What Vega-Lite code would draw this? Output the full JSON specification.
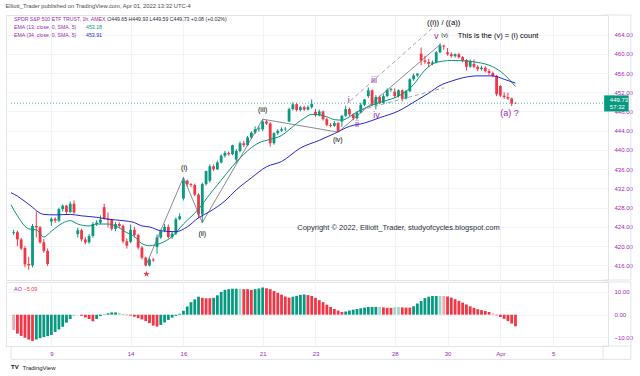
{
"$schema":"https://vega.github.io/schema/vega-lite/v6.json",
"padding":{"left":5,"top":3,"right":4,"bottom":0},
"title":{"text":"Elliott_Trader published on TradingView.com, Apr 01, 2022 13:32 UTC-4","anchor":"start","frame":"bounds","fontSize":5.8,"font":"Liberation Sans","fontWeight":"normal","color":"#4a4a4a","offset":5},
"spacing":0,
"datasets":{
"candles":[
{"i":0,"o":422.7,"h":423.4,"l":422.3,"c":422.9},{"i":1,"o":422.9,"h":423.2,"l":420.0,"c":421.4},{"i":2,"o":421.4,"h":421.7,"l":419.2,"c":419.5},{"i":3,"o":419.6,"h":420.0,"l":415.6,"c":416.2},{"i":4,"o":416.3,"h":417.8,"l":415.1,"c":416.0},{"i":5,"o":416.0,"h":424.6,"l":415.6,"c":424.2},{"i":6,"o":424.2,"h":427.2,"l":421.8,"c":423.9},{"i":7,"o":423.9,"h":424.2,"l":420.5,"c":420.8},{"i":8,"o":420.8,"h":421.5,"l":418.6,"c":419.0},{"i":9,"o":419.0,"h":419.5,"l":415.9,"c":416.3},
{"i":10,"o":425.1,"h":426.0,"l":424.2,"c":425.7},{"i":11,"o":425.7,"h":426.0,"l":424.8,"c":425.3},{"i":12,"o":425.3,"h":428.0,"l":425.0,"c":427.7},{"i":13,"o":427.7,"h":428.7,"l":427.2,"c":428.4},{"i":14,"o":428.4,"h":428.6,"l":426.7,"c":427.1},{"i":15,"o":427.1,"h":429.3,"l":426.9,"c":428.8},{"i":16,"o":428.8,"h":429.5,"l":426.7,"c":427.0},
{"i":17,"o":422.5,"h":423.8,"l":421.8,"c":423.3},{"i":18,"o":423.3,"h":423.6,"l":421.0,"c":421.4},{"i":19,"o":421.4,"h":421.9,"l":420.4,"c":420.8},{"i":20,"o":420.8,"h":422.5,"l":420.5,"c":422.1},{"i":21,"o":422.1,"h":425.0,"l":421.8,"c":424.6},{"i":22,"o":424.6,"h":425.4,"l":424.2,"c":424.9},{"i":23,"o":424.9,"h":426.4,"l":424.6,"c":425.5},
{"i":24,"o":428.1,"h":428.8,"l":425.5,"c":425.8},{"i":25,"o":425.8,"h":427.0,"l":423.9,"c":425.5},{"i":26,"o":425.5,"h":425.7,"l":423.2,"c":423.6},{"i":27,"o":423.6,"h":425.0,"l":423.1,"c":424.6},{"i":28,"o":424.6,"h":425.0,"l":423.8,"c":424.2},{"i":29,"o":424.2,"h":424.5,"l":420.6,"c":421.0},{"i":30,"o":421.0,"h":421.6,"l":419.5,"c":420.1},
{"i":31,"o":420.9,"h":424.5,"l":420.6,"c":423.4},{"i":32,"o":423.4,"h":424.0,"l":421.8,"c":422.3},{"i":33,"o":422.3,"h":422.6,"l":419.3,"c":419.7},{"i":34,"o":419.7,"h":420.0,"l":417.2,"c":417.6},{"i":35,"o":417.6,"h":417.8,"l":415.8,"c":416.0},{"i":36,"o":416.0,"h":417.6,"l":415.8,"c":417.2},{"i":37,"o":417.2,"h":417.6,"l":416.8,"c":417.0},
{"i":38,"o":419.8,"h":422.4,"l":418.4,"c":421.8},{"i":39,"o":421.8,"h":423.5,"l":421.5,"c":423.2},{"i":40,"o":423.2,"h":424.6,"l":422.9,"c":424.0},{"i":41,"o":424.0,"h":424.5,"l":421.6,"c":421.9},{"i":42,"o":421.9,"h":423.0,"l":421.5,"c":422.6},{"i":43,"o":422.6,"h":426.0,"l":422.3,"c":425.6},{"i":44,"o":425.6,"h":426.8,"l":425.4,"c":426.2},
{"i":45,"o":429.9,"h":434.3,"l":429.5,"c":433.6},{"i":46,"o":433.6,"h":433.8,"l":432.4,"c":432.9},{"i":47,"o":432.9,"h":433.1,"l":432.3,"c":432.7},{"i":48,"o":432.7,"h":433.0,"l":430.4,"c":430.7},{"i":49,"o":430.7,"h":431.0,"l":425.8,"c":426.6},{"i":50,"o":426.6,"h":433.2,"l":424.8,"c":432.9},{"i":51,"o":432.9,"h":435.7,"l":432.6,"c":435.6},
{"i":52,"o":433.6,"h":437.0,"l":433.2,"c":436.6},{"i":53,"o":436.6,"h":437.0,"l":435.6,"c":436.0},{"i":54,"o":436.0,"h":437.8,"l":435.8,"c":437.4},{"i":55,"o":437.4,"h":439.1,"l":437.2,"c":438.8},{"i":56,"o":438.8,"h":439.8,"l":438.4,"c":439.4},{"i":57,"o":439.4,"h":439.7,"l":438.8,"c":439.1},{"i":58,"o":439.1,"h":441.1,"l":438.9,"c":441.0},
{"i":59,"o":438.0,"h":440.2,"l":437.2,"c":439.8},{"i":60,"o":439.8,"h":441.8,"l":439.5,"c":441.4},{"i":61,"o":441.4,"h":441.9,"l":440.6,"c":441.0},{"i":62,"o":441.0,"h":442.9,"l":440.8,"c":442.6},{"i":63,"o":442.6,"h":443.9,"l":442.3,"c":443.6},{"i":64,"o":443.6,"h":444.9,"l":443.3,"c":444.3},{"i":65,"o":444.3,"h":444.9,"l":443.8,"c":444.5},
{"i":66,"o":444.3,"h":446.4,"l":443.9,"c":445.9},{"i":67,"o":445.9,"h":446.2,"l":445.2,"c":445.5},{"i":68,"o":445.5,"h":445.8,"l":440.7,"c":441.4},{"i":69,"o":441.4,"h":443.7,"l":441.1,"c":443.5},{"i":70,"o":443.5,"h":444.3,"l":443.1,"c":444.0},{"i":71,"o":444.0,"h":444.7,"l":443.7,"c":444.3},{"i":72,"o":444.3,"h":444.8,"l":443.9,"c":444.4},
{"i":73,"o":445.9,"h":448.8,"l":445.8,"c":448.5},{"i":74,"o":448.5,"h":449.9,"l":448.2,"c":449.5},{"i":75,"o":449.5,"h":449.8,"l":448.0,"c":448.3},{"i":76,"o":448.3,"h":449.2,"l":448.0,"c":448.9},{"i":77,"o":448.9,"h":449.2,"l":448.1,"c":448.4},{"i":78,"o":448.4,"h":449.3,"l":448.2,"c":448.9},{"i":79,"o":448.9,"h":450.5,"l":448.6,"c":449.6},
{"i":80,"o":447.9,"h":448.5,"l":446.9,"c":447.2},{"i":81,"o":447.2,"h":448.4,"l":447.0,"c":448.0},{"i":82,"o":448.0,"h":448.2,"l":446.1,"c":446.4},{"i":83,"o":446.4,"h":446.7,"l":444.9,"c":445.2},{"i":84,"o":445.2,"h":445.6,"l":444.7,"c":445.0},{"i":85,"o":445.0,"h":446.0,"l":444.8,"c":445.6},{"i":86,"o":445.6,"h":445.9,"l":443.7,"c":443.8},
{"i":87,"o":445.9,"h":447.3,"l":444.8,"c":447.1},{"i":88,"o":447.1,"h":449.2,"l":446.9,"c":448.5},{"i":89,"o":448.5,"h":448.8,"l":447.0,"c":447.4},{"i":90,"o":447.4,"h":447.6,"l":446.2,"c":446.6},{"i":91,"o":446.6,"h":448.0,"l":446.3,"c":447.8},{"i":92,"o":447.8,"h":449.8,"l":447.6,"c":449.4},{"i":93,"o":449.4,"h":450.6,"l":449.1,"c":450.5},
{"i":94,"o":451.2,"h":453.0,"l":450.8,"c":452.4},{"i":95,"o":452.4,"h":452.6,"l":449.1,"c":449.4},{"i":96,"o":449.4,"h":451.4,"l":448.4,"c":451.0},{"i":97,"o":451.0,"h":451.3,"l":449.5,"c":449.8},{"i":98,"o":449.8,"h":451.6,"l":449.6,"c":451.2},{"i":99,"o":451.2,"h":452.8,"l":451.0,"c":452.5},{"i":100,"o":452.5,"h":452.9,"l":452.1,"c":452.7},
{"i":101,"o":452.1,"h":452.8,"l":450.8,"c":451.2},{"i":102,"o":451.2,"h":452.6,"l":450.9,"c":452.4},{"i":103,"o":452.4,"h":452.6,"l":450.1,"c":450.7},{"i":104,"o":450.7,"h":452.5,"l":450.5,"c":452.2},{"i":105,"o":452.2,"h":454.9,"l":452.0,"c":454.7},{"i":106,"o":454.7,"h":455.9,"l":454.4,"c":455.5},{"i":107,"o":455.5,"h":455.9,"l":455.2,"c":455.9},
{"i":108,"o":460.0,"h":461.3,"l":457.6,"c":458.6},{"i":109,"o":458.6,"h":459.6,"l":457.9,"c":458.3},{"i":110,"o":458.3,"h":458.9,"l":457.2,"c":457.9},{"i":111,"o":457.9,"h":458.6,"l":457.6,"c":458.2},{"i":112,"o":458.2,"h":460.6,"l":458.0,"c":460.3},{"i":113,"o":460.3,"h":462.1,"l":460.1,"c":461.7},{"i":114,"o":461.7,"h":461.9,"l":460.8,"c":461.5},
{"i":115,"o":460.3,"h":461.2,"l":459.6,"c":459.9},{"i":116,"o":459.9,"h":460.3,"l":459.2,"c":459.5},{"i":117,"o":459.5,"h":460.1,"l":459.2,"c":459.9},{"i":118,"o":459.9,"h":460.2,"l":459.0,"c":459.3},{"i":119,"o":459.3,"h":459.5,"l":458.2,"c":458.5},{"i":120,"o":458.7,"h":458.9,"l":456.5,"c":457.3},{"i":121,"o":457.3,"h":458.8,"l":457.1,"c":458.5},
{"i":122,"o":457.9,"h":458.8,"l":457.0,"c":457.3},{"i":123,"o":457.3,"h":457.6,"l":456.4,"c":456.8},{"i":124,"o":456.8,"h":457.5,"l":456.5,"c":457.1},{"i":125,"o":457.1,"h":457.4,"l":456.1,"c":456.4},{"i":126,"o":456.4,"h":456.8,"l":455.6,"c":456.0},{"i":127,"o":456.0,"h":456.3,"l":455.1,"c":455.4},{"i":128,"o":455.4,"h":455.6,"l":451.2,"c":451.6},
{"i":129,"o":453.3,"h":453.5,"l":451.0,"c":451.3},{"i":130,"o":451.3,"h":452.0,"l":450.6,"c":451.0},{"i":131,"o":451.0,"h":451.9,"l":450.4,"c":450.7},{"i":132,"o":450.7,"h":450.9,"l":449.1,"c":449.65},{"i":133,"o":449.65,"h":449.93,"l":449.59,"c":449.73}
],
"ema13":[
{"i":-0.7,"v":428.6},{"i":1,"v":426.3},{"i":4,"v":423.6},{"i":6,"v":423.4},{"i":8,"v":421.9},{"i":10,"v":423.1},{"i":13,"v":424.8},{"i":15,"v":425.3},{"i":17,"v":424.6},{"i":20,"v":424.2},{"i":22,"v":424.6},{"i":25,"v":424.6},{"i":27,"v":424.2},{"i":30,"v":422.8},{"i":32,"v":422.0},{"i":34,"v":420.5},{"i":36,"v":420.1},{"i":39,"v":420.6},{"i":42,"v":422.0},{"i":45,"v":424.6},{"i":49,"v":427.7},{"i":52,"v":430.8},{"i":55,"v":433.7},{"i":58,"v":436.6},{"i":61,"v":439.1},{"i":65,"v":441.5},{"i":68,"v":442.2},{"i":71,"v":443.0},{"i":73,"v":444.2},{"i":75,"v":445.5},{"i":77,"v":446.6},{"i":79,"v":447.4},{"i":81,"v":447.3},{"i":83,"v":446.9},{"i":85,"v":446.3},{"i":87,"v":446.2},{"i":89,"v":446.9},{"i":91,"v":447.9},{"i":95,"v":449.3},{"i":98,"v":450.1},{"i":102,"v":451.2},{"i":106,"v":453.6},{"i":109,"v":456.6},{"i":112,"v":458.2},{"i":116,"v":458.6},{"i":120,"v":458.5},{"i":123,"v":458.2},{"i":127,"v":457.3},{"i":130,"v":455.7},{"i":133,"v":453.2}
],
"ema34":[
{"i":-0.7,"v":431.1},{"i":1,"v":430.4},{"i":4,"v":428.7},{"i":8,"v":426.6},{"i":11,"v":426.5},{"i":15,"v":426.6},{"i":18,"v":426.3},{"i":22,"v":426.0},{"i":25,"v":425.6},{"i":29,"v":425.3},{"i":32,"v":424.9},{"i":34,"v":424.2},{"i":36,"v":424.0},{"i":39,"v":423.2},{"i":43,"v":423.0},{"i":46,"v":424.0},{"i":49,"v":425.9},{"i":52,"v":427.2},{"i":56,"v":429.4},{"i":59,"v":431.7},{"i":63,"v":434.2},{"i":67,"v":436.5},{"i":71,"v":437.6},{"i":76,"v":440.4},{"i":81,"v":442.0},{"i":85,"v":443.4},{"i":89,"v":444.9},{"i":93,"v":445.6},{"i":97,"v":446.7},{"i":102,"v":448.1},{"i":107,"v":450.4},{"i":110,"v":451.8},{"i":113,"v":453.4},{"i":116,"v":454.3},{"i":119,"v":455.0},{"i":123,"v":455.4},{"i":127,"v":455.4},{"i":130,"v":454.7},{"i":133,"v":453.9}
],
"waves":[
{"i":35,"p":415.9},{"i":45,"p":434.3},{"i":50,"p":424.9},{"i":66,"p":446.4},{"i":86,"p":443.7},{"i":113.3,"p":462.1}
],
"channels":[
{"g":"u","i":89.2,"p":450.2},{"g":"u","i":111.1,"p":465.4},{"g":"d","i":92,"p":448.3},{"g":"d","i":114,"p":452.9}
],
"blackText":[
{"i":45.2,"p":436.3,"t":"(i)"},{"i":50,"p":422.6,"t":"(ii)"},{"i":66,"p":448.3,"t":"(iii)"},{"i":85.9,"p":442.1,"t":"(iv)"}
],
"purpleText":[
{"i":88.8,"p":450.4,"t":"i"},{"i":91,"p":445.5,"t":"ii"},{"i":95.5,"p":454.5,"t":"iii"},{"i":96.2,"p":447.2,"t":"iv"},{"i":112,"p":463.7,"t":"v"},{"i":131.4,"p":447.6,"t":"(a) ?"}
],
"ao":[
{"i":0,"v":-6.7,"t":"lr"},{"i":1,"v":-8.3,"t":"r"},{"i":2,"v":-9.3,"t":"r"},{"i":3,"v":-10.1,"t":"r"},{"i":4,"v":-10.9,"t":"r"},{"i":5,"v":-11.5,"t":"r"},{"i":6,"v":-10.9,"t":"g"},{"i":7,"v":-10.3,"t":"g"},{"i":8,"v":-9.8,"t":"g"},{"i":9,"v":-9.4,"t":"g"},
{"i":10,"v":-8.9,"t":"g"},{"i":11,"v":-7.6,"t":"g"},{"i":12,"v":-6.5,"t":"g"},{"i":13,"v":-5.3,"t":"g"},{"i":14,"v":-3.5,"t":"g"},{"i":15,"v":-1.9,"t":"g"},{"i":16,"v":-0.6,"t":"lg"},{"i":17,"v":0.1,"t":"lg"},{"i":18,"v":-0.5,"t":"r"},{"i":19,"v":-1.2,"t":"r"},
{"i":20,"v":-1.9,"t":"r"},{"i":21,"v":-2.9,"t":"r"},{"i":22,"v":-1.9,"t":"g"},{"i":23,"v":-0.6,"t":"g"},{"i":24,"v":0.2,"t":"g"},{"i":25,"v":0.6,"t":"g"},{"i":26,"v":1.0,"t":"g"},{"i":27,"v":1.0,"t":"g"},{"i":28,"v":0.8,"t":"lg"},{"i":29,"v":0.2,"t":"r"},
{"i":30,"v":-0.2,"t":"r"},{"i":31,"v":-0.4,"t":"r"},{"i":32,"v":-0.9,"t":"r"},{"i":33,"v":-1.5,"t":"r"},{"i":34,"v":-2.1,"t":"r"},{"i":35,"v":-2.8,"t":"r"},{"i":36,"v":-3.7,"t":"r"},{"i":37,"v":-4.8,"t":"r"},{"i":38,"v":-5.2,"t":"r"},{"i":39,"v":-4.5,"t":"g"},
{"i":40,"v":-3.4,"t":"g"},{"i":41,"v":-2.3,"t":"g"},{"i":42,"v":-1.3,"t":"g"},{"i":43,"v":-0.5,"t":"g"},{"i":44,"v":0.4,"t":"g"},{"i":45,"v":1.7,"t":"g"},{"i":46,"v":3.6,"t":"g"},{"i":47,"v":5.5,"t":"g"},{"i":48,"v":6.7,"t":"g"},{"i":49,"v":7.9,"t":"g"},
{"i":50,"v":7.4,"t":"r"},{"i":51,"v":7.2,"t":"r"},{"i":52,"v":7.2,"t":"r"},{"i":53,"v":7.4,"t":"g"},{"i":54,"v":8.5,"t":"g"},{"i":55,"v":10.0,"t":"g"},{"i":56,"v":10.9,"t":"g"},{"i":57,"v":11.2,"t":"g"},{"i":58,"v":11.4,"t":"g"},{"i":59,"v":11.4,"t":"g"},
{"i":60,"v":11.4,"t":"lg"},{"i":61,"v":11.2,"t":"r"},{"i":62,"v":11.2,"t":"r"},{"i":63,"v":10.9,"t":"r"},{"i":64,"v":11.2,"t":"g"},{"i":65,"v":11.5,"t":"g"},{"i":66,"v":11.9,"t":"g"},{"i":67,"v":11.6,"t":"r"},{"i":68,"v":11.2,"t":"r"},{"i":69,"v":10.4,"t":"r"},
{"i":70,"v":9.6,"t":"r"},{"i":71,"v":8.8,"t":"r"},{"i":72,"v":8.0,"t":"r"},{"i":73,"v":7.5,"t":"r"},{"i":74,"v":7.9,"t":"g"},{"i":75,"v":8.3,"t":"g"},{"i":76,"v":8.7,"t":"g"},{"i":77,"v":8.9,"t":"g"},{"i":78,"v":8.6,"t":"r"},{"i":79,"v":8.2,"t":"r"},
{"i":80,"v":7.4,"t":"r"},{"i":81,"v":6.4,"t":"r"},{"i":82,"v":5.5,"t":"r"},{"i":83,"v":4.4,"t":"r"},{"i":84,"v":3.4,"t":"r"},{"i":85,"v":2.5,"t":"r"},{"i":86,"v":1.8,"t":"r"},{"i":87,"v":1.2,"t":"r"},{"i":88,"v":1.4,"t":"g"},{"i":89,"v":1.8,"t":"g"},
{"i":90,"v":2.2,"t":"g"},{"i":91,"v":2.5,"t":"g"},{"i":92,"v":2.8,"t":"g"},{"i":93,"v":3.1,"t":"g"},{"i":94,"v":3.4,"t":"g"},{"i":95,"v":3.4,"t":"g"},{"i":96,"v":3.4,"t":"g"},{"i":97,"v":3.4,"t":"lg"},{"i":98,"v":3.2,"t":"r"},{"i":99,"v":3.0,"t":"r"},
{"i":100,"v":3.0,"t":"r"},{"i":101,"v":3.3,"t":"lg"},{"i":102,"v":3.4,"t":"lg"},{"i":103,"v":3.2,"t":"r"},{"i":104,"v":3.1,"t":"r"},{"i":105,"v":3.1,"t":"r"},{"i":106,"v":3.7,"t":"g"},{"i":107,"v":4.9,"t":"g"},{"i":108,"v":6.0,"t":"g"},{"i":109,"v":7.3,"t":"g"},
{"i":110,"v":7.9,"t":"g"},{"i":111,"v":8.2,"t":"g"},{"i":112,"v":8.2,"t":"g"},{"i":113,"v":8.2,"t":"lg"},{"i":114,"v":8.2,"t":"lr"},{"i":115,"v":8.0,"t":"r"},{"i":116,"v":7.5,"t":"r"},{"i":117,"v":6.8,"t":"r"},{"i":118,"v":6.1,"t":"r"},{"i":119,"v":5.3,"t":"r"},
{"i":120,"v":4.5,"t":"r"},{"i":121,"v":3.7,"t":"r"},{"i":122,"v":3.0,"t":"r"},{"i":123,"v":2.4,"t":"r"},{"i":124,"v":2.0,"t":"r"},{"i":125,"v":1.6,"t":"r"},{"i":126,"v":1.2,"t":"r"},{"i":127,"v":0.6,"t":"lr"},{"i":128,"v":-0.3,"t":"r"},{"i":129,"v":-1.0,"t":"r"},
{"i":130,"v":-1.8,"t":"r"},{"i":131,"v":-2.8,"t":"r"},{"i":132,"v":-3.9,"t":"r"},{"i":133,"v":-5.09,"t":"r"}
]
},
"vconcat":[
{
"width":602,"height":265,
"encoding":{"x":{"field":"i","type":"quantitative","scale":{"domain":[-0.7,156.2],"nice":false,"zero":false},"axis":{"values":[10,31,45,66,80,101,115,129,143],"labels":false,"ticks":false,"domain":false,"grid":true,"gridColor":"#f0f3fa","title":null,"minExtent":0,"maxExtent":0,"labelPadding":0,"tickSize":0,"offset":0}}},
"layer":[
{"data":{"values":[{"i":-0.7,"i2":156.2,"p":449.73}]},"mark":{"type":"rule","color":"#089981","strokeDash":[1,2],"strokeWidth":1,"opacity":0.7},
 "encoding":{"x2":{"field":"i2"},"y":{"field":"p","type":"quantitative","title":null,"scale":{"domain":[412.96,468.06],"nice":false,"zero":false},"axis":{"orient":"right","values":[416,420,424,428,432,436,440,444,448,452,456,460,464],"format":".2f","grid":true,"gridColor":"#f0f3fa","domain":false,"ticks":false,"labelPadding":6,"labelFont":"Liberation Sans","labelFontSize":6,"labelColor":"#9c27b0","title":null}}}},
{"data":{"values":[{"i":156.2,"i2":163.6,"p":468.06},{"i":156.2,"i2":163.6,"p":412.96}]},"mark":{"type":"rule","color":"#e0e3eb","strokeWidth":1},
 "encoding":{"x2":{"field":"i2"},"y":{"field":"p","type":"quantitative","title":null,"scale":{"domain":[412.96,468.06],"nice":false,"zero":false},"axis":{"orient":"right","values":[416,420,424,428,432,436,440,444,448,452,456,460,464],"format":".2f","grid":true,"gridColor":"#f0f3fa","domain":false,"ticks":false,"labelPadding":6,"labelFont":"Liberation Sans","labelFontSize":6,"labelColor":"#9c27b0","title":null}}}},
{"data":{"values":[{"i":163.6,"p":412.96,"p2":468.06}]},"mark":{"type":"rule","color":"#e0e3eb","strokeWidth":1},
 "encoding":{"y":{"field":"p","type":"quantitative","title":null,"scale":{"domain":[412.96,468.06],"nice":false,"zero":false},"axis":{"orient":"right","values":[416,420,424,428,432,436,440,444,448,452,456,460,464],"format":".2f","grid":true,"gridColor":"#f0f3fa","domain":false,"ticks":false,"labelPadding":6,"labelFont":"Liberation Sans","labelFontSize":6,"labelColor":"#9c27b0","title":null}},"y2":{"field":"p2"}}},
{"data":{"name":"candles"},"mark":{"type":"rule","strokeWidth":1},
 "encoding":{"y":{"field":"l","type":"quantitative","title":null,"scale":{"domain":[412.96,468.06],"nice":false,"zero":false},"axis":{"orient":"right","values":[416,420,424,428,432,436,440,444,448,452,456,460,464],"format":".2f","grid":true,"gridColor":"#f0f3fa","domain":false,"ticks":false,"labelPadding":6,"labelFont":"Liberation Sans","labelFontSize":6,"labelColor":"#9c27b0","title":null}},"y2":{"field":"h"},
 "color":{"condition":{"test":"datum.c >= datum.o","value":"#089981"},"value":"#f23645"}}},
{"data":{"name":"candles"},"mark":{"type":"bar","size":2.8},
 "encoding":{"y":{"field":"o","type":"quantitative","title":null,"scale":{"domain":[412.96,468.06],"nice":false,"zero":false},"axis":{"orient":"right","values":[416,420,424,428,432,436,440,444,448,452,456,460,464],"format":".2f","grid":true,"gridColor":"#f0f3fa","domain":false,"ticks":false,"labelPadding":6,"labelFont":"Liberation Sans","labelFontSize":6,"labelColor":"#9c27b0","title":null}},"y2":{"field":"c"},
 "color":{"condition":{"test":"datum.c >= datum.o","value":"#089981"},"value":"#f23645"}}},
{"data":{"name":"ema13"},"mark":{"type":"line","color":"#0b9474","strokeWidth":1,"interpolate":"monotone"},
 "encoding":{"y":{"field":"v","type":"quantitative","title":null,"scale":{"domain":[412.96,468.06],"nice":false,"zero":false},"axis":{"orient":"right","values":[416,420,424,428,432,436,440,444,448,452,456,460,464],"format":".2f","grid":true,"gridColor":"#f0f3fa","domain":false,"ticks":false,"labelPadding":6,"labelFont":"Liberation Sans","labelFontSize":6,"labelColor":"#9c27b0","title":null}}}},
{"data":{"name":"ema34"},"mark":{"type":"line","color":"#2424d8","strokeWidth":1,"interpolate":"monotone"},
 "encoding":{"y":{"field":"v","type":"quantitative","title":null,"scale":{"domain":[412.96,468.06],"nice":false,"zero":false},"axis":{"orient":"right","values":[416,420,424,428,432,436,440,444,448,452,456,460,464],"format":".2f","grid":true,"gridColor":"#f0f3fa","domain":false,"ticks":false,"labelPadding":6,"labelFont":"Liberation Sans","labelFontSize":6,"labelColor":"#9c27b0","title":null}}}},
{"data":{"name":"waves"},"mark":{"type":"line","color":"#6a6d78","strokeWidth":0.8},
 "encoding":{"y":{"field":"p","type":"quantitative","title":null,"scale":{"domain":[412.96,468.06],"nice":false,"zero":false},"axis":{"orient":"right","values":[416,420,424,428,432,436,440,444,448,452,456,460,464],"format":".2f","grid":true,"gridColor":"#f0f3fa","domain":false,"ticks":false,"labelPadding":6,"labelFont":"Liberation Sans","labelFontSize":6,"labelColor":"#9c27b0","title":null}}}},
{"data":{"name":"channels"},"mark":{"type":"line","color":"#8a8d96","strokeWidth":0.8,"strokeDash":[4,3]},
 "encoding":{"detail":{"field":"g"},"y":{"field":"p","type":"quantitative","title":null,"scale":{"domain":[412.96,468.06],"nice":false,"zero":false},"axis":{"orient":"right","values":[416,420,424,428,432,436,440,444,448,452,456,460,464],"format":".2f","grid":true,"gridColor":"#f0f3fa","domain":false,"ticks":false,"labelPadding":6,"labelFont":"Liberation Sans","labelFontSize":6,"labelColor":"#9c27b0","title":null}}}},
{"data":{"name":"blackText"},"mark":{"type":"text","font":"Liberation Sans","fontSize":7,"fill":"#000000","align":"center","baseline":"middle"},
 "encoding":{"text":{"field":"t"},"y":{"field":"p","type":"quantitative","title":null,"scale":{"domain":[412.96,468.06],"nice":false,"zero":false},"axis":{"orient":"right","values":[416,420,424,428,432,436,440,444,448,452,456,460,464],"format":".2f","grid":true,"gridColor":"#f0f3fa","domain":false,"ticks":false,"labelPadding":6,"labelFont":"Liberation Sans","labelFontSize":6,"labelColor":"#9c27b0","title":null}}}},
{"data":{"values":[{"i":114,"p":466.3,"t":"((i)) / ((a))"}]},"mark":{"type":"text","font":"Liberation Sans","fontSize":7.8,"fill":"#000000","align":"center","baseline":"middle"},
 "encoding":{"text":{"field":"t"},"y":{"field":"p","type":"quantitative","title":null,"scale":{"domain":[412.96,468.06],"nice":false,"zero":false},"axis":{"orient":"right","values":[416,420,424,428,432,436,440,444,448,452,456,460,464],"format":".2f","grid":true,"gridColor":"#f0f3fa","domain":false,"ticks":false,"labelPadding":6,"labelFont":"Liberation Sans","labelFontSize":6,"labelColor":"#9c27b0","title":null}}}},
{"data":{"values":[{"i":114.2,"p":463.9,"t":"(v)"}]},"mark":{"type":"text","font":"Liberation Sans","fontSize":5.5,"fill":"#000000","align":"center","baseline":"middle"},
 "encoding":{"text":{"field":"t"},"y":{"field":"p","type":"quantitative","title":null,"scale":{"domain":[412.96,468.06],"nice":false,"zero":false},"axis":{"orient":"right","values":[416,420,424,428,432,436,440,444,448,452,456,460,464],"format":".2f","grid":true,"gridColor":"#f0f3fa","domain":false,"ticks":false,"labelPadding":6,"labelFont":"Liberation Sans","labelFontSize":6,"labelColor":"#9c27b0","title":null}}}},
{"data":{"values":[{"i":117.7,"p":463.7,"t":"This is the (v) = (i) count"}]},"mark":{"type":"text","font":"Liberation Sans","fontSize":7.5,"fill":"#000000","align":"left","baseline":"middle"},
 "encoding":{"text":{"field":"t"},"y":{"field":"p","type":"quantitative","title":null,"scale":{"domain":[412.96,468.06],"nice":false,"zero":false},"axis":{"orient":"right","values":[416,420,424,428,432,436,440,444,448,452,456,460,464],"format":".2f","grid":true,"gridColor":"#f0f3fa","domain":false,"ticks":false,"labelPadding":6,"labelFont":"Liberation Sans","labelFontSize":6,"labelColor":"#9c27b0","title":null}}}},
{"data":{"name":"purpleText"},"mark":{"type":"text","font":"Liberation Sans","fontSize":9,"fill":"#9c27b0","align":"center","baseline":"middle"},
 "encoding":{"text":{"field":"t"},"y":{"field":"p","type":"quantitative","title":null,"scale":{"domain":[412.96,468.06],"nice":false,"zero":false},"axis":{"orient":"right","values":[416,420,424,428,432,436,440,444,448,452,456,460,464],"format":".2f","grid":true,"gridColor":"#f0f3fa","domain":false,"ticks":false,"labelPadding":6,"labelFont":"Liberation Sans","labelFontSize":6,"labelColor":"#9c27b0","title":null}}}},
{"data":{"values":[{"i":102,"p":423.8,"t":"Copyright © 2022, Elliott_Trader, studyofcycles.blogspot.com"}]},"mark":{"type":"text","font":"Liberation Sans","fontSize":7.5,"fill":"#2a2e39","align":"center","baseline":"middle"},
 "encoding":{"text":{"field":"t"},"y":{"field":"p","type":"quantitative","title":null,"scale":{"domain":[412.96,468.06],"nice":false,"zero":false},"axis":{"orient":"right","values":[416,420,424,428,432,436,440,444,448,452,456,460,464],"format":".2f","grid":true,"gridColor":"#f0f3fa","domain":false,"ticks":false,"labelPadding":6,"labelFont":"Liberation Sans","labelFontSize":6,"labelColor":"#9c27b0","title":null}}}},
{"data":{"values":[{"i":0.1,"p":467.2,"t":"SPDR S&P 500 ETF TRUST, 1h, AMEX","k":"a"},{"i":24.8,"p":467.2,"t":"O449.65  H449.93  L449.59  C449.73  +0.08 (+0.02%)","k":"b"},{"i":0.1,"p":465.6,"t":"EMA (13, close, 0, SMA, 5)","k":"a"},{"i":19.2,"p":465.6,"t":"453.18","k":"c"},{"i":0.1,"p":464.0,"t":"EMA (34, close, 0, SMA, 5)","k":"a"},{"i":19.2,"p":464.0,"t":"453.91","k":"d"}]},
 "mark":{"type":"text","font":"Liberation Sans","fontSize":5.2,"align":"left","baseline":"middle"},
 "encoding":{"text":{"field":"t"},"color":{"field":"k","type":"nominal","legend":null,"scale":{"domain":["a","b","c","d"],"range":["#9c27b0","#2a2e39","#089981","#2424d8"]}},"y":{"field":"p","type":"quantitative","title":null,"scale":{"domain":[412.96,468.06],"nice":false,"zero":false},"axis":{"orient":"right","values":[416,420,424,428,432,436,440,444,448,452,456,460,464],"format":".2f","grid":true,"gridColor":"#f0f3fa","domain":false,"ticks":false,"labelPadding":6,"labelFont":"Liberation Sans","labelFontSize":6,"labelColor":"#9c27b0","title":null}}}},
{"data":{"values":[{"i":35.2,"p":414.2}]},"mark":{"type":"point","filled":true,"color":"#f23645","opacity":1,"size":45,"shape":"M0,-1L0.2245,-0.309L0.951,-0.309L0.363,0.118L0.588,0.809L0,0.382L-0.588,0.809L-0.363,0.118L-0.951,-0.309L-0.2245,-0.309Z"},
 "encoding":{"y":{"field":"p","type":"quantitative","title":null,"scale":{"domain":[412.96,468.06],"nice":false,"zero":false},"axis":{"orient":"right","values":[416,420,424,428,432,436,440,444,448,452,456,460,464],"format":".2f","grid":true,"gridColor":"#f0f3fa","domain":false,"ticks":false,"labelPadding":6,"labelFont":"Liberation Sans","labelFontSize":6,"labelColor":"#9c27b0","title":null}}}},
{"data":{"values":[{"i":156.5,"i2":163.0,"p":451.35,"p2":448.0}]},"mark":{"type":"rect","color":"#089981"},
 "encoding":{"x2":{"field":"i2"},"y":{"field":"p","type":"quantitative","title":null,"scale":{"domain":[412.96,468.06],"nice":false,"zero":false},"axis":{"orient":"right","values":[416,420,424,428,432,436,440,444,448,452,456,460,464],"format":".2f","grid":true,"gridColor":"#f0f3fa","domain":false,"ticks":false,"labelPadding":6,"labelFont":"Liberation Sans","labelFontSize":6,"labelColor":"#9c27b0","title":null}},"y2":{"field":"p2"}}},
{"data":{"values":[{"i":158.0,"p":450.45,"t":"449.73"},{"i":158.0,"p":448.85,"t":"57:32"}]},"mark":{"type":"text","font":"Liberation Sans","fontSize":6,"fill":"#ffffff","align":"left","baseline":"middle"},
 "encoding":{"text":{"field":"t"},"y":{"field":"p","type":"quantitative","title":null,"scale":{"domain":[412.96,468.06],"nice":false,"zero":false},"axis":{"orient":"right","values":[416,420,424,428,432,436,440,444,448,452,456,460,464],"format":".2f","grid":true,"gridColor":"#f0f3fa","domain":false,"ticks":false,"labelPadding":6,"labelFont":"Liberation Sans","labelFontSize":6,"labelColor":"#9c27b0","title":null}}}}
]
},
{
"width":602,"height":64,
"encoding":{"x":{"field":"i","type":"quantitative","scale":{"domain":[-0.7,156.2],"nice":false,"zero":false},"axis":{"values":[10,31,45,66,80,101,115,129,143],"labelExpr":"datum.value==10?'9':datum.value==31?'14':datum.value==45?'16':datum.value==66?'21':datum.value==80?'23':datum.value==101?'28':datum.value==115?'30':datum.value==129?'Apr':'5'","ticks":false,"domain":false,"grid":true,"gridColor":"#f0f3fa","labelFont":"Liberation Sans","labelFontSize":6,"labelColor":"#9c27b0","labelPadding":4,"title":"TradingView","titleFont":"Liberation Sans","titleFontSize":6,"titleFontWeight":"normal","titleColor":"#131722","titleAnchor":"start","titleAlign":"left","titleBaseline":"middle","titleX":16,"titleY":21}}},
"layer":[
{"data":{"name":"ao"},"mark":{"type":"bar","size":2.8},
 "encoding":{"y":{"field":"v","type":"quantitative","title":null,"scale":{"domain":[-13.73,14.34],"nice":false,"zero":false},"axis":{"orient":"right","values":[-10,0,10],"format":".2f","grid":true,"gridColor":"#f0f3fa","domain":false,"ticks":false,"labelPadding":6,"labelFont":"Liberation Sans","labelFontSize":6,"labelColor":"#9c27b0","title":null}},"y2":{"datum":0},
 "color":{"field":"t","type":"nominal","legend":null,"scale":{"domain":["g","r","lg","lr"],"range":["#089981","#f23645","#a3d6cb","#f7a6ab"]}}}},
{"data":{"values":[{"i":163.6,"v":-19.6,"v2":14.34},{"i":156.2,"v":-19.6,"v2":-13.73},{"i":-0.7,"v":-19.6,"v2":-13.73}]},"mark":{"type":"rule","color":"#e0e3eb","strokeWidth":1},
 "encoding":{"y":{"field":"v","type":"quantitative","title":null,"scale":{"domain":[-13.73,14.34],"nice":false,"zero":false},"axis":{"orient":"right","values":[-10,0,10],"format":".2f","grid":true,"gridColor":"#f0f3fa","domain":false,"ticks":false,"labelPadding":6,"labelFont":"Liberation Sans","labelFontSize":6,"labelColor":"#9c27b0","title":null}},"y2":{"field":"v2"}}},
{"data":{"values":[{"i":-0.7,"i2":163.6,"v":-19.6},{"i":156.2,"i2":163.6,"v":-13.73},{"i":156.2,"i2":163.6,"v":14.34}]},"mark":{"type":"rule","color":"#e0e3eb","strokeWidth":1},
 "encoding":{"x2":{"field":"i2"},"y":{"field":"v","type":"quantitative","title":null,"scale":{"domain":[-13.73,14.34],"nice":false,"zero":false},"axis":{"orient":"right","values":[-10,0,10],"format":".2f","grid":true,"gridColor":"#f0f3fa","domain":false,"ticks":false,"labelPadding":6,"labelFont":"Liberation Sans","labelFontSize":6,"labelColor":"#9c27b0","title":null}}}},
{"data":{"values":[{"i":-0.7,"v":-23.0,"t":"TV"}]},"mark":{"type":"text","font":"Liberation Sans","fontSize":6,"fontWeight":"bold","fill":"#131722","align":"left","baseline":"middle"},
 "encoding":{"text":{"field":"t"},"y":{"field":"v","type":"quantitative","title":null,"scale":{"domain":[-13.73,14.34],"nice":false,"zero":false},"axis":{"orient":"right","values":[-10,0,10],"format":".2f","grid":true,"gridColor":"#f0f3fa","domain":false,"ticks":false,"labelPadding":6,"labelFont":"Liberation Sans","labelFontSize":6,"labelColor":"#9c27b0","title":null}}}},
{"data":{"values":[{"i":0.1,"v":11.3,"t":"AO","k":"a"},{"i":2.6,"v":11.3,"t":"−5.09","k":"r"}]},"mark":{"type":"text","font":"Liberation Sans","fontSize":5.5,"align":"left","baseline":"middle"},
 "encoding":{"text":{"field":"t"},"color":{"field":"k","type":"nominal","legend":null,"scale":{"domain":["a","r"],"range":["#9c27b0","#f23645"]}},"y":{"field":"v","type":"quantitative","title":null,"scale":{"domain":[-13.73,14.34],"nice":false,"zero":false},"axis":{"orient":"right","values":[-10,0,10],"format":".2f","grid":true,"gridColor":"#f0f3fa","domain":false,"ticks":false,"labelPadding":6,"labelFont":"Liberation Sans","labelFontSize":6,"labelColor":"#9c27b0","title":null}}}}
],
"resolve":{"scale":{"color":"independent"}}
}
],
"resolve":{"scale":{"color":"independent"}},
"config":{"view":{"stroke":"#e0e3eb","strokeWidth":1}}
}
